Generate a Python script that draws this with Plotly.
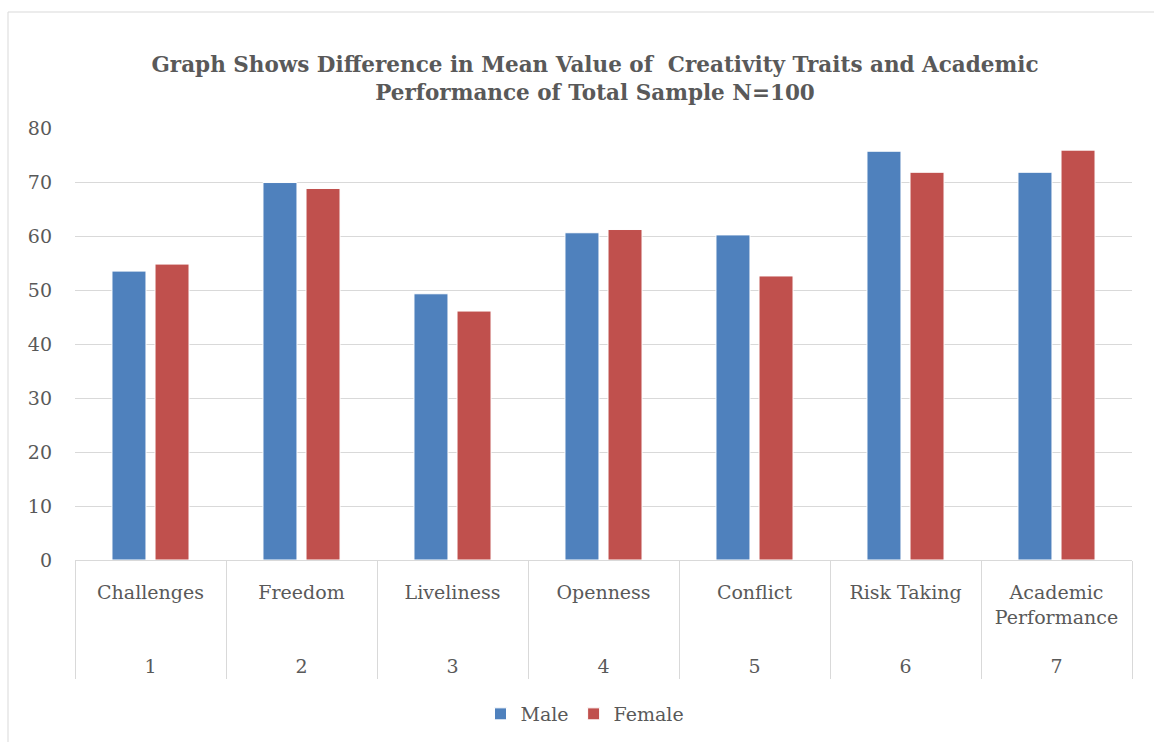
import plotly.graph_objects as go

categories = ["Challenges", "Freedom", "Liveliness", "Openness", "Conflict", "Risk Taking", "Academic<br>Performance"]
numbers = ["1", "2", "3", "4", "5", "6", "7"]
male = [53.5, 69.9, 49.3, 60.6, 60.2, 75.7, 71.8]
female = [54.8, 68.8, 46.1, 61.2, 52.6, 71.8, 75.9]

FONT = "DejaVu Serif"
GREY = "#595959"

# two-level tick labels: category name on top, index number below
ticktext = []
for c, n in zip(categories, numbers):
    lines = c.count("<br>") + 1
    ticktext.append(c + "<br>" * (4 - lines) + n)

fig = go.Figure()
fig.add_trace(go.Bar(name="Male", x=categories, y=male,
                     marker=dict(color="#4F81BD", line=dict(color="white", width=1))))
fig.add_trace(go.Bar(name="Female", x=categories, y=female,
                     marker=dict(color="#C0504D", line=dict(color="white", width=1))))

fig.update_layout(
    width=1154, height=742,
    margin=dict(l=75, r=22, t=128, b=182),
    paper_bgcolor="white", plot_bgcolor="white",
    barmode="group", bargap=0.43, bargroupgap=0.21,
    font=dict(family=FONT, color=GREY, size=19),
    title=dict(text="<b>Graph Shows Difference in Mean Value of  Creativity Traits and Academic<br>Performance of Total Sample N=100</b>",
               x=595/1154, xanchor="center", xref="container",
               y=1 - 72/742, yanchor="middle", yref="container",
               font=dict(family=FONT, size=21.5, color=GREY)),
    legend=dict(orientation="h", x=585/1154, xanchor="center", xref="container",
                y=1 - 714/742, yanchor="middle", yref="container",
                font=dict(family=FONT, size=19, color=GREY)),
    showlegend=True,
)
fig.update_yaxes(range=[0, 80], dtick=10, showgrid=True, gridcolor="#D9D9D9", gridwidth=1.3,
                 zeroline=False, showline=False, ticks="", ticklabelstandoff=22,
                 tickfont=dict(family=FONT, size=19, color=GREY))
fig.update_xaxes(type="category", showline=True, linecolor="#D9D9D9", linewidth=1.3,
                 tickmode="array", tickvals=categories, ticktext=ticktext,
                 ticks="outside", tickson="boundaries", ticklen=118,
                 tickcolor="#D9D9D9", tickwidth=1.3,
                 ticklabelstandoff=15,
                 tickfont=dict(family=FONT, size=19, color=GREY))

fig.add_shape(type="rect", xref="paper", yref="paper",
              x0=(8 - 75) / 1057, x1=1.1, y0=-0.6, y1=(560 - 12) / 432,
              line=dict(color="#D9D9D9", width=1), fillcolor="rgba(0,0,0,0)", layer="below")

fig.write_html("out.html")
